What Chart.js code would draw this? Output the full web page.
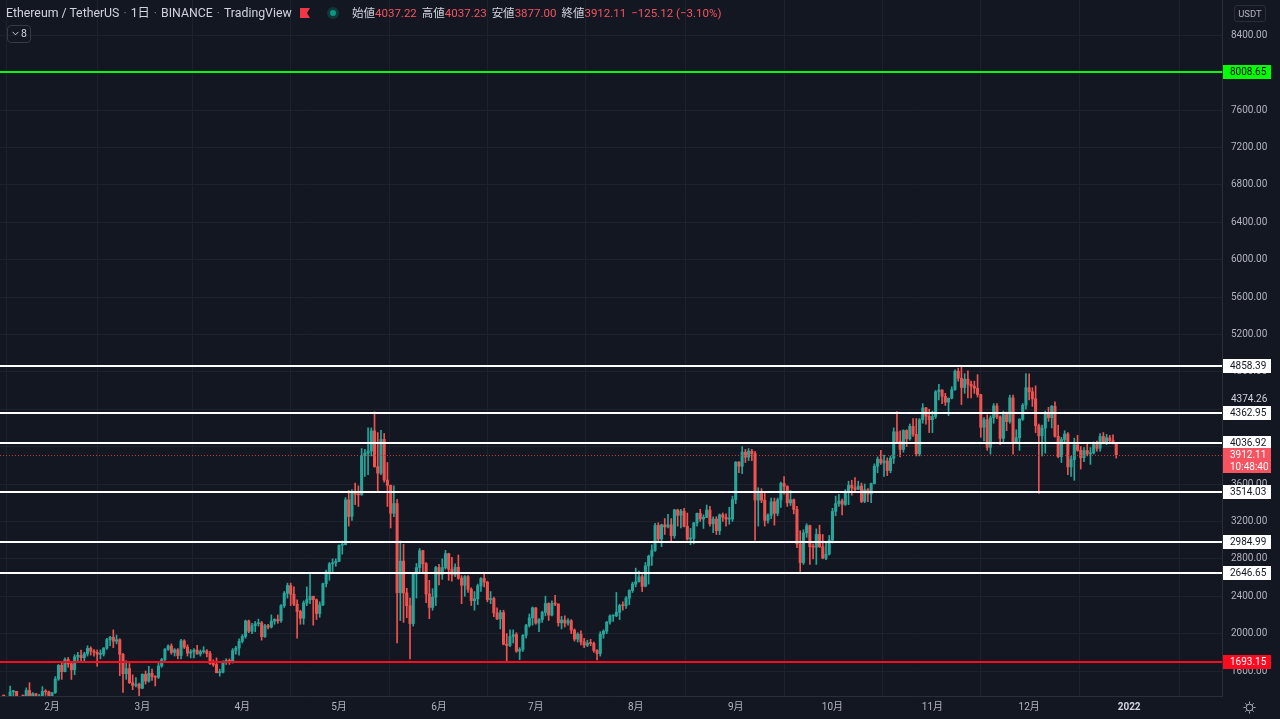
<!DOCTYPE html>
<html lang="ja">
<head>
<meta charset="utf-8">
<title>Ethereum / TetherUS 1日</title>
<script src="https://cdn.jsdelivr.net/npm/chart.js@4.4.1/dist/chart.umd.min.js"></script>
<style>
  html, body { margin: 0; padding: 0; background: #131722; overflow: hidden; }
  #wrap { position: relative; width: 1280px; height: 719px; font-family: Roboto, "Noto Sans CJK JP", sans-serif; }
  #c { position: absolute; left: 0; top: 0; }
  .ui { position: absolute; white-space: nowrap; z-index: 2; }
  #title { left: 6px; top: 4px; font-size: 12.3px; line-height: 18px; color: #d1d4dc; }
  #title .sep { color: #787b86; margin: 0 4px; }
  #flag { left: 300px; top: 8px; width: 10px; height: 10px; background: #f23645;
          clip-path: polygon(0 0, 100% 0, 70% 50%, 100% 100%, 0 100%); }
  #dot { left: 327px; top: 7px; width: 12px; height: 12px; border-radius: 50%; background: rgba(8,153,129,0.25); }
  #dot::after { content: ""; position: absolute; left: 3px; top: 3px; width: 6px; height: 6px; border-radius: 50%; background: #089981; }
  #ohlc { left: 352px; top: 4px; font-size: 11.5px; line-height: 18px; color: #d1d4dc; }
  #ohlc b { font-weight: normal; color: #f7525f; margin-right: 5px; }
  #count { left: 7px; top: 25px; width: 22px; height: 16px; border: 1px solid #363a45; border-radius: 4px;
           color: #d1d4dc; font-size: 10.5px; line-height: 16px; }
  #count svg { position: absolute; left: 4px; top: 5px; }
  #count span { position: absolute; left: 13px; top: 0; }
  #unit { left: 1234px; top: 5px; width: 30px; height: 15px; border: 1px solid #2a2e39; border-radius: 3px;
          color: #b2b5be; font-size: 9.5px; line-height: 15px; text-align: center; }
  #gear { left: 1243px; top: 701px; }
</style>
</head>
<body>
<div id="wrap">
  <canvas id="c" width="1280" height="719"></canvas>
  <div class="ui" id="title">Ethereum / TetherUS<span class="sep">·</span>1日<span class="sep">·</span>BINANCE<span class="sep">·</span>TradingView</div>
  <div class="ui" id="flag"></div>
  <div class="ui" id="dot"></div>
  <div class="ui" id="ohlc">始値<b>4037.22</b>高値<b>4037.23</b>安値<b>3877.00</b>終値<b>3912.11</b><b>−125.12 (−3.10%)</b></div>
  <div class="ui" id="count"><svg width="7" height="5" viewBox="0 0 7 5"><polyline points="0.5,0.8 3.5,3.8 6.5,0.8" fill="none" stroke="#d1d4dc" stroke-width="1"/></svg><span>8</span></div>
  <div class="ui" id="unit">USDT</div>
  <svg class="ui" id="gear" width="13" height="13" viewBox="0 0 13 13">
    <circle cx="6.5" cy="6.5" r="3.4" fill="none" stroke="#b2b5be" stroke-width="1"/>
    <path d="M6.5 0.5v2M6.5 10.5v2M0.5 6.5h2M10.5 6.5h2M2.3 2.3l1.4 1.4M9.3 9.3l1.4 1.4M2.3 10.7l1.4-1.4M9.3 3.7l1.4-1.4" stroke="#b2b5be" stroke-width="1"/>
  </svg>
</div>
<script>
// daily candles ETH/USDT, 2021-01-16 .. 2021-12-28 (open = previous close)
const firstDay = 15;          // days since 2021-01-01
const firstOpen = 1171;

const closes = [
  // Jan 16-31
  1233,1230,1257,1377,1382,1121,1236,1231,1392,1324,1357,1253,1332,1382,1377,1314,
  // Feb
  1369,1514,1661,1593,1723,1677,1613,1751,1769,1743,1784,1843,1813,1800,1779,1781,1846,1937,1960,1919,1935,1778,1571,1626,1475,1446,1459,1416,
  // Mar
  1564,1492,1575,1541,1533,1654,1723,1834,1868,1799,1826,1765,1922,1855,1792,1806,1823,1782,1807,1813,1786,1681,1669,1582,1587,1701,1714,1690,1819,1846,1918,
  // Apr
  1970,2135,2025,2085,2105,2114,1967,2083,2070,2133,2151,2137,2299,2432,2514,2421,2314,2236,2164,2328,2363,2400,2363,2215,2308,2534,2662,2746,2756,2773,
  // May
  2945,2950,3431,3253,3522,3490,3484,3903,3930,3952,4168,3785,3716,4077,3642,3585,3288,3391,2437,2776,2435,2298,2107,2638,2706,2887,2748,2423,2280,2389,2707,
  // Jun
  2634,2706,2855,2689,2628,2710,2593,2517,2609,2473,2353,2372,2510,2590,2550,2365,2375,2221,2158,2225,1887,1873,1968,1990,1812,1830,1982,2087,2169,2275,
  // Jul
  2113,2150,2226,2322,2198,2323,2316,2116,2146,2113,2139,2037,1941,1994,1911,1876,1899,1895,1819,1787,1994,2026,2123,2188,2190,2228,2300,2298,2380,2461,2530,
  // Aug
  2555,2608,2506,2725,2827,2890,3157,3012,3163,3141,3164,3047,3322,3265,3310,3147,3012,3017,3183,3287,3226,3243,3322,3174,3225,3101,3270,3244,3225,3225,3433,
  // Sep
  3834,3790,3941,3887,3952,3926,3428,3497,3427,3211,3267,3410,3287,3431,3606,3577,3398,3432,3329,2959,2760,3077,3154,2930,2924,3061,2929,2807,2850,3000,
  // Oct
  3307,3390,3418,3382,3516,3586,3560,3543,3578,3414,3538,3493,3605,3790,3866,3826,3847,3744,3876,4158,4057,3970,4172,4083,4217,4131,3923,4287,4414,4325,4288,
  // Nov
  4322,4586,4605,4537,4476,4518,4610,4807,4731,4632,4721,4667,4646,4624,4556,4207,4288,3992,4308,4435,4317,4088,4342,4267,4521,4046,4095,4293,4443,4630,
  // Dec 1-28
  4586,4511,4224,4116,4198,4347,4309,4432,4111,3893,4075,4135,3783,3862,4019,3960,3882,3958,3922,3933,4022,3982,4109,4048,4094,4064,4037.22,3912.11
];

const highs = [
  1290,1260,1260,1440,1393,1383,1270,1290,1420,1475,1370,1358,1350,1433,1400,1385,
  1372,1540,1670,1695,1740,1745,1700,1774,1800,1825,1800,1870,1860,1830,1825,1825,1850,1950,1970,2040,1985,1945,1790,1710,1680,1559,1530,1470,
  1570,1600,1650,1620,1550,1690,1735,1840,1880,1890,1840,1840,1940,1935,1880,1830,1840,1875,1825,1860,1830,1810,1720,1740,1620,1710,1730,1730,1840,1865,1945,
  1990,2145,2145,2110,2130,2155,2130,2100,2100,2200,2160,2200,2310,2450,2540,2540,2500,2360,2250,2350,2500,2645,2400,2370,2340,2540,2680,2760,2800,2800,
  2950,2990,3455,3530,3540,3610,3580,3980,3970,4200,4200,4372,4150,4175,4140,3830,3590,3580,3435,2990,2955,2485,2380,2650,2750,2910,2890,2760,2570,2480,2720,
  2740,2800,2890,2860,2815,2745,2840,2620,2620,2620,2490,2450,2530,2600,2640,2560,2450,2390,2275,2250,2250,2000,2040,2040,2010,1850,1990,2100,2210,2285,
  2280,2160,2240,2400,2330,2350,2410,2320,2185,2190,2160,2150,2050,2010,2030,1950,1930,1940,1910,1830,2020,2040,2130,2200,2200,2440,2315,2340,2395,2470,2550,
  2700,2670,2630,2760,2840,2950,3180,3185,3170,3230,3275,3230,3330,3330,3330,3340,3290,3125,3190,3290,3330,3270,3375,3360,3250,3250,3280,3290,3280,3350,3470,
  3840,3840,4000,3970,3980,3970,3950,3560,3550,3510,3280,3450,3450,3450,3620,3680,3580,3530,3440,3360,3100,3110,3175,3160,2960,3120,3160,3060,2970,3050,
  3340,3470,3490,3440,3540,3630,3640,3670,3630,3610,3600,3550,3610,3815,3890,3960,3910,3880,3900,4200,4375,4170,4180,4180,4240,4300,4300,4300,4460,4420,4400,
  4380,4600,4665,4610,4570,4520,4640,4820,4840,4868,4780,4810,4700,4700,4770,4560,4310,4340,4330,4460,4460,4330,4380,4370,4550,4550,4180,4300,4460,4780,
  4778,4630,4650,4240,4230,4380,4420,4440,4480,4230,4100,4170,4150,3900,4090,4120,4000,3990,4040,3990,4050,4060,4140,4150,4130,4120,4125,4037.23
];

const lows = [
  1160,1150,1170,1253,1240,1110,1055,1210,1220,1290,1250,1220,1240,1270,1340,1290,
  1300,1360,1500,1510,1590,1640,1510,1560,1700,1690,1700,1760,1770,1760,1650,1730,1760,1830,1870,1850,1890,1550,1370,1511,1466,1400,1430,1290,
  1410,1460,1480,1500,1440,1520,1640,1690,1820,1780,1760,1730,1730,1840,1760,1740,1740,1780,1760,1790,1750,1670,1650,1580,1545,1580,1670,1670,1685,1780,1770,
  1900,1950,2010,2000,2020,2080,1930,1960,2050,2060,2100,2110,2120,2280,2380,2300,2300,1950,2100,2100,2300,2320,2090,2150,2175,2300,2500,2570,2660,2720,
  2770,2850,2950,3150,3210,3380,3360,3480,3680,3700,3900,3780,3520,3700,3620,3360,3130,3250,1900,2140,2120,2170,1728,2080,2380,2660,2650,2330,2160,2250,2300,
  2520,2580,2690,2570,2560,2610,2580,2320,2400,2440,2300,2250,2310,2450,2500,2340,2320,2180,2150,2050,1880,1700,1860,1900,1800,1720,1810,1950,2070,2090,
  2100,2020,2120,2190,2140,2190,2300,2080,2050,2070,2090,2000,1920,1910,1880,1850,1860,1870,1800,1718,1760,1950,2000,2100,2130,2180,2150,2250,2270,2310,2440,
  2500,2550,2450,2500,2530,2730,2880,2990,2930,3060,3130,2990,3020,3150,3130,3140,3000,2950,2960,3150,3200,3125,3240,3150,3080,3060,3060,3200,3150,3170,3200,
  3390,3720,3710,3830,3850,3850,3000,3150,3400,3150,3180,3230,3160,3260,3350,3490,3360,3370,3280,2920,2650,2740,3030,2740,2800,2740,2920,2800,2790,2840,
  2970,3260,3360,3270,3370,3380,3480,3520,3540,3400,3400,3410,3400,3600,3720,3810,3680,3690,3720,3820,4040,3890,3940,4000,4070,4110,3900,3900,4250,4240,4150,
  4150,4300,4500,4460,4440,4330,4510,4600,4700,4450,4570,4520,4520,4570,4530,4100,4060,3960,3920,4250,4300,4020,4050,4170,4250,3920,4040,3960,4280,4400,
  4500,4430,4150,3500,3900,3930,4270,4200,4100,3880,3830,4040,3700,3680,3640,3950,3760,3840,3900,3810,3920,3950,3950,4030,4020,4030,4030,3877
];

// x axis: first day of each month (days since 2021-01-01)
const monthTicks  = [31, 59, 90, 120, 151, 181, 212, 243, 273, 304, 334, 365];
const monthLabels = ['2月','3月','4月','5月','6月','7月','8月','9月','10月','11月','12月','2022'];
const priceTicks  = [1600,2000,2400,2800,3200,3600,4000,4400,4800,5200,5600,6000,6400,6800,7200,7600,8000,8400];

// horizontal levels drawn on the chart
const levelValues = [8008.65, 4858.39, 4362.95, 4036.92, 3514.03, 2984.99, 2646.65, 1693.15];
const lastPrice = 3912.11;
const countdown = '10:48:40';
const rangeHigh = 4374.26;

const levelColors = ['#00ff00','#ffffff','#ffffff','#ffffff','#ffffff','#ffffff','#ffffff','#ff0a1e'];
const levelText   = ['#000000','#131722','#131722','#131722','#131722','#131722','#131722','#ffffff'];
const UP = '#26a69a', DOWN = '#ef5350';

const days = closes.map((c, i) => firstDay + i);
const opens = [firstOpen, ...closes.slice(0, -1)];
const candleColor = ctx => closes[ctx.dataIndex] >= opens[ctx.dataIndex] ? UP : DOWN;

Chart.defaults.font.family = 'Roboto, "Noto Sans CJK JP", sans-serif';

const overlay = {
  id: 'overlay',
  afterDatasetsDraw(chart) {
    const { ctx, chartArea: a, scales: { y } } = chart;
    ctx.save();
    const py = Math.round(y.getPixelForValue(lastPrice)) + 0.5;
    ctx.setLineDash([1, 2]);
    ctx.strokeStyle = '#c23b3b';
    ctx.lineWidth = 1;
    ctx.beginPath(); ctx.moveTo(a.left, py); ctx.lineTo(a.right, py); ctx.stroke();
    ctx.setLineDash([]);
    levelValues.forEach((v, i) => {
      const yy = Math.round(y.getPixelForValue(v));
      ctx.strokeStyle = levelColors[i];
      ctx.lineWidth = 2;
      ctx.beginPath(); ctx.moveTo(a.left, yy); ctx.lineTo(a.right, yy); ctx.stroke();
    });
    ctx.restore();
  },
  afterDraw(chart) {
    const { ctx, chartArea: a, scales: { y } } = chart;
    const tx = a.right + 8;
    ctx.save();
    ctx.font = '10px Roboto, sans-serif';
    ctx.textBaseline = 'middle';
    ctx.textAlign = 'left';
    ctx.fillStyle = '#d1d4dc';
    ctx.fillText(rangeHigh.toFixed(2), tx + 1, y.getPixelForValue(rangeHigh) - 12);
    levelValues.forEach((v, i) => {
      const yy = Math.round(y.getPixelForValue(v));
      ctx.fillStyle = levelColors[i];
      ctx.fillRect(a.right + 1, yy - 7, 48, 14);
      ctx.fillStyle = levelText[i];
      ctx.fillText(v.toFixed(2), tx, yy + 0.5);
    });
    const py = Math.round(y.getPixelForValue(lastPrice));
    ctx.fillStyle = '#f7525f';
    ctx.fillRect(a.right + 1, py - 7, 48, 25);
    ctx.fillStyle = '#ffffff';
    ctx.fillText(lastPrice.toFixed(2), tx, py);
    ctx.fillText(countdown, tx, py + 12);
    ctx.restore();
  }
};

new Chart(document.getElementById('c'), {
  type: 'bar',
  data: {
    datasets: [
      {
        data: days.map((d, i) => ({ x: d, y: [opens[i], closes[i]] })),
        backgroundColor: candleColor,
        barThickness: 2.4,
        minBarLength: 1,
        grouped: false,
        borderWidth: 0
      },
      {
        data: days.map((d, i) => ({ x: d, y: [lows[i], highs[i]] })),
        backgroundColor: candleColor,
        barThickness: 1,
        grouped: false,
        borderWidth: 0
      }
    ]
  },
  options: {
    responsive: false,
    animation: false,
    layout: { padding: 0 },
    plugins: { legend: { display: false }, tooltip: { enabled: false } },
    scales: {
      x: {
        type: 'linear',
        min: 14.86,
        max: 393.8,
        offset: false,
        afterBuildTicks: s => { s.ticks = monthTicks.map(v => ({ value: v })); },
        afterFit: s => { s.height = 23; s.paddingLeft = 0; s.paddingRight = 0; },
        ticks: {
          autoSkip: false,
          maxRotation: 0,
          padding: 5,
          color: c => c.index === monthTicks.length - 1 ? '#d1d4dc' : '#b2b5be',
          font: c => ({ size: 10, weight: c.index === monthTicks.length - 1 ? 'bold' : 'normal' }),
          callback: (v, i) => monthLabels[i]
        },
        grid: { color: '#1e222d', drawTicks: false },
        border: { color: '#2a2e39' }
      },
      y: {
        position: 'right',
        min: 1332.7,
        max: 8776.5,
        afterBuildTicks: s => { s.ticks = priceTicks.map(v => ({ value: v })); },
        afterFit: s => { s.width = 58; s.paddingTop = 0; s.paddingBottom = 0; },
        ticks: {
          padding: 9,
          color: '#b2b5be',
          font: { size: 10 },
          callback: function (v) {
            const hy = this.getPixelForValue(rangeHigh) - 12;
            return Math.abs(this.getPixelForValue(v) - hy) < 10 ? '' : v.toFixed(2);
          }
        },
        grid: { color: '#1e222d', drawTicks: false },
        border: { color: '#2a2e39' }
      }
    }
  },
  plugins: [overlay]
});
</script>
</body>
</html>
